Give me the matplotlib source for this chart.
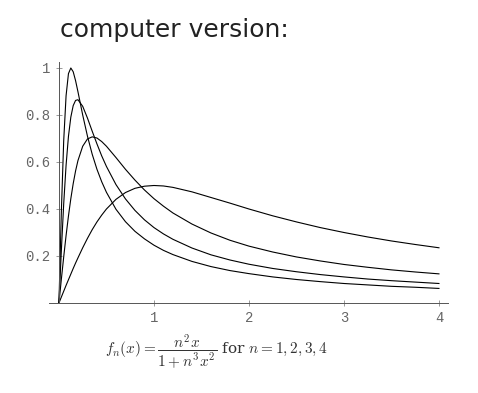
import matplotlib.pyplot as plt

# sample points along x (denser near the peaks)
x = [0, 0.025, 0.05, 0.075, 0.1, 0.125, 0.15, 0.175, 0.2, 0.25, 0.3, 0.35,
     0.4, 0.45, 0.5, 0.6, 0.7, 0.8, 0.9, 1.0, 1.1, 1.2, 1.4, 1.6, 1.8, 2.0,
     2.25, 2.5, 2.75, 3.0, 3.25, 3.5, 3.75, 4.0]

# n = 1
f1 = [0, 0.025, 0.050, 0.075, 0.099, 0.123, 0.147, 0.170, 0.192, 0.235,
      0.275, 0.312, 0.345, 0.374, 0.400, 0.441, 0.470, 0.488, 0.497, 0.500,
      0.498, 0.492, 0.473, 0.449, 0.425, 0.400, 0.371, 0.345, 0.321, 0.300,
      0.281, 0.264, 0.249, 0.235]
# n = 2
f2 = [0, 0.100, 0.196, 0.287, 0.370, 0.444, 0.508, 0.562, 0.606, 0.667,
      0.698, 0.707, 0.702, 0.687, 0.667, 0.619, 0.569, 0.523, 0.481, 0.444,
      0.412, 0.383, 0.336, 0.298, 0.267, 0.242, 0.217, 0.196, 0.179, 0.164,
      0.152, 0.141, 0.132, 0.124]
# n = 3
f3 = [0, 0.221, 0.422, 0.586, 0.709, 0.791, 0.840, 0.862, 0.865, 0.837,
      0.787, 0.731, 0.677, 0.626, 0.581, 0.504, 0.443, 0.394, 0.354, 0.321,
      0.294, 0.271, 0.234, 0.205, 0.183, 0.165, 0.147, 0.133, 0.121, 0.111,
      0.102, 0.095, 0.089, 0.083]
# n = 4
f4 = [0, 0.385, 0.690, 0.882, 0.976, 1.000, 0.984, 0.946, 0.899, 0.800,
      0.710, 0.633, 0.569, 0.516, 0.471, 0.399, 0.346, 0.305, 0.273, 0.246,
      0.224, 0.206, 0.177, 0.155, 0.138, 0.125, 0.111, 0.100, 0.091, 0.083,
      0.077, 0.071, 0.067, 0.062]

xticks = [1, 2, 3, 4]
yticks = [0.2, 0.4, 0.6, 0.8, 1]
ytick_labels = ['0.2', '0.4', '0.6', '0.8', '1']

plt.rcParams['mathtext.fontset'] = 'cm'

fig = plt.figure(figsize=(4.78, 3.93), dpi=100)
ax = fig.add_axes([48.5 / 478, 90 / 393, 399 / 478, 241 / 393])

for y in [f1, f2, f3, f4]:
    ax.plot(x, y, color='black', lw=0.8)

ax.set_xlim(-0.11, 4.09)
ax.set_ylim(0, 1.0255)

# mathematica-style axes crossing at the origin
ax.spines['left'].set_position(('data', 0))
ax.spines['bottom'].set_position(('data', 0))
ax.spines['right'].set_visible(False)
ax.spines['top'].set_visible(False)
for s in ['left', 'bottom']:
    ax.spines[s].set_linewidth(0.7)
    ax.spines[s].set_color('#555555')

ax.set_xticks(xticks)
ax.set_xticklabels([str(t) for t in xticks])
ax.set_yticks(yticks)
ax.set_yticklabels(ytick_labels)
ax.tick_params(direction='inout', length=5, width=0.6, color='#888888',
               labelcolor='#666666', labelsize=10)
for lab in ax.get_xticklabels() + ax.get_yticklabels():
    lab.set_family('Liberation Mono')

# handwritten caption on top
fig.text(60 / 478, 1 - 30 / 393, 'computer version:', fontsize=18,
         color='#222222', ha='left', va='center')

# formula under the plot
fig.text(105 / 478, 1 - 352 / 393,
         r'$f_n(x) = \dfrac{n^2 x}{1 + n^3 x^2}$ for $n = 1, 2, 3, 4$',
         fontsize=11, family='DejaVu Serif', ha='left', va='center',
         color='#333333')

fig.savefig('out.png', dpi=100)
